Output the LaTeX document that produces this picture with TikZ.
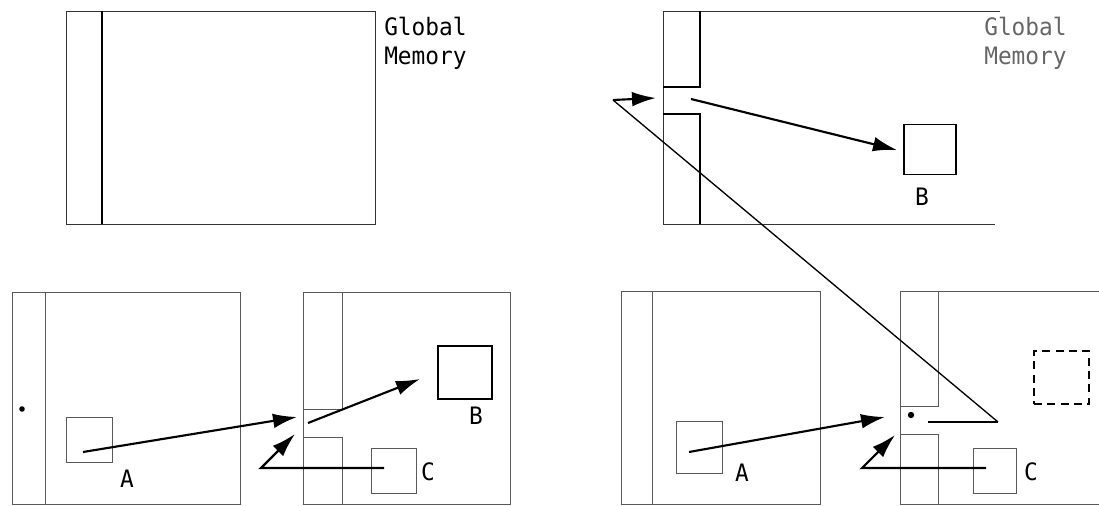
\documentclass[tikz,border=0pt]{standalone}
\usepackage{fontspec}
\newfontfamily\plotter[FakeStretch=0.95]{DejaVu Sans Mono}
\usetikzlibrary{arrows.meta}

\begin{document}
\begin{tikzpicture}[x=0.75pt,y=-0.75pt,
  frame/.style={draw=black!65,line width=0.6pt},
  ptr/.style={-{Latex[length=18pt,width=11pt]},line width=1.6pt},
  lbl/.style={font=\plotter\fontsize{18}{22}\selectfont,inner sep=0pt}]
\useasboundingbox (0,0) rectangle (1099,506);
% global memory, before
\draw[frame,draw=black!80] (66,11) rectangle (375,224);
\draw[line width=1.4pt] (102,11) -- (102,224);
\node[lbl,anchor=north west,align=left] (gmL) at (384,17) {Global\\Memory};
% global memory, after
\draw[frame,draw=black!80] (1000,11) -- (663,11) -- (663,224) -- (995,224);
\draw[line width=1.1pt] (700,11) -- (700,87) -- (663,87);
\draw[line width=1.1pt] (663,114) -- (700,114) -- (700,224);
\node[lbl,text=black!60,anchor=north west,align=left] (gmR) at (984,17) {Global\\Memory};
\node[draw,line width=0.9pt,minimum width=39pt,minimum height=38pt] (gB) at (930,149.5) {};
\node[lbl] (gBl) at (922,197) {B};
% processors, before
\draw[frame] (12,292) rectangle (240,504);
\draw[frame] (45,292) -- (45,504);
\fill (22,409) circle (2.8);
\draw[frame] (303,292) rectangle (510,504);
\draw[frame] (342,292) -- (342,409) -- (303,409);
\draw[frame] (303,437) -- (342,437) -- (342,504);
\node[frame,minimum width=34.5pt,minimum height=33.75pt] (aL) at (89,439.5) {};
\node[lbl] (aLl) at (127,479) {A};
\node[draw,line width=1.3pt,minimum width=40.5pt,minimum height=39.75pt] (bL) at (465,372.5) {};
\node[lbl] (bLl) at (476,416) {B};
\node[frame,minimum width=33.75pt,minimum height=33.75pt] (cL) at (393.5,470.5) {};
\node[lbl] (cLl) at (428,472) {C};
% processors, after
\draw[frame] (621,291) rectangle (820,504);
\draw[frame] (652,291) -- (652,504);
\draw[frame] (1099,291) -- (900,291) -- (900,504) -- (1099,504);
\draw[frame] (938,291) -- (938,406) -- (900,406);
\draw[frame] (900,434) -- (938,434) -- (938,504);
\fill (911,415) circle (3.2);
\node[frame,minimum width=34.5pt,minimum height=39pt] (aR) at (699,447) {};
\node[lbl] (aRl) at (742,473) {A};
\node[draw,line width=1.1pt,dash pattern=on 6pt off 4pt,minimum width=41.25pt,minimum height=39.75pt] (bR) at (1061.5,377.5) {};
\node[frame,minimum width=32.25pt,minimum height=33.75pt] (cR) at (994.5,470.5) {};
\node[lbl] (cRl) at (1031,472) {C};
% arrow ends
\coordinate (aLs) at (83,452);
\coordinate (slotL) at (297,417);
\coordinate (slotLs) at (308,423);
\coordinate (bLe) at (420,379);
\coordinate (cLs) at (384,468);
\coordinate (cLk) at (261,468);
\coordinate (cLe) at (295,434);
\coordinate (aRs) at (689,452);
\coordinate (slotR) at (885,417);
\coordinate (cRs) at (986,468);
\coordinate (cRk) at (862,468);
\coordinate (cRe) at (895,435);
\coordinate (ptrS) at (928,422);
\coordinate (ptrK) at (998,422);
\coordinate (ptrB) at (613,100);
\coordinate (gSlot) at (656,98);
\coordinate (gSlotS) at (691,99);
\coordinate (gBe) at (897,150);
% arrows
\draw[ptr] (aLs) -- (slotL);
\draw[ptr] (slotLs) -- (bLe);
\draw[ptr] (cLs) -- (cLk) -- (cLe);
\draw[ptr] (aRs) -- (slotR);
\draw[ptr] (cRs) -- (cRk) -- (cRe);
\draw[line width=1.6pt] (ptrS) -- (ptrK);
\draw[line width=1pt] (ptrK) -- (ptrB);
\draw[ptr] (ptrB) -- (gSlot);
\draw[ptr] (gSlotS) -- (gBe);
\end{tikzpicture}
\end{document}
